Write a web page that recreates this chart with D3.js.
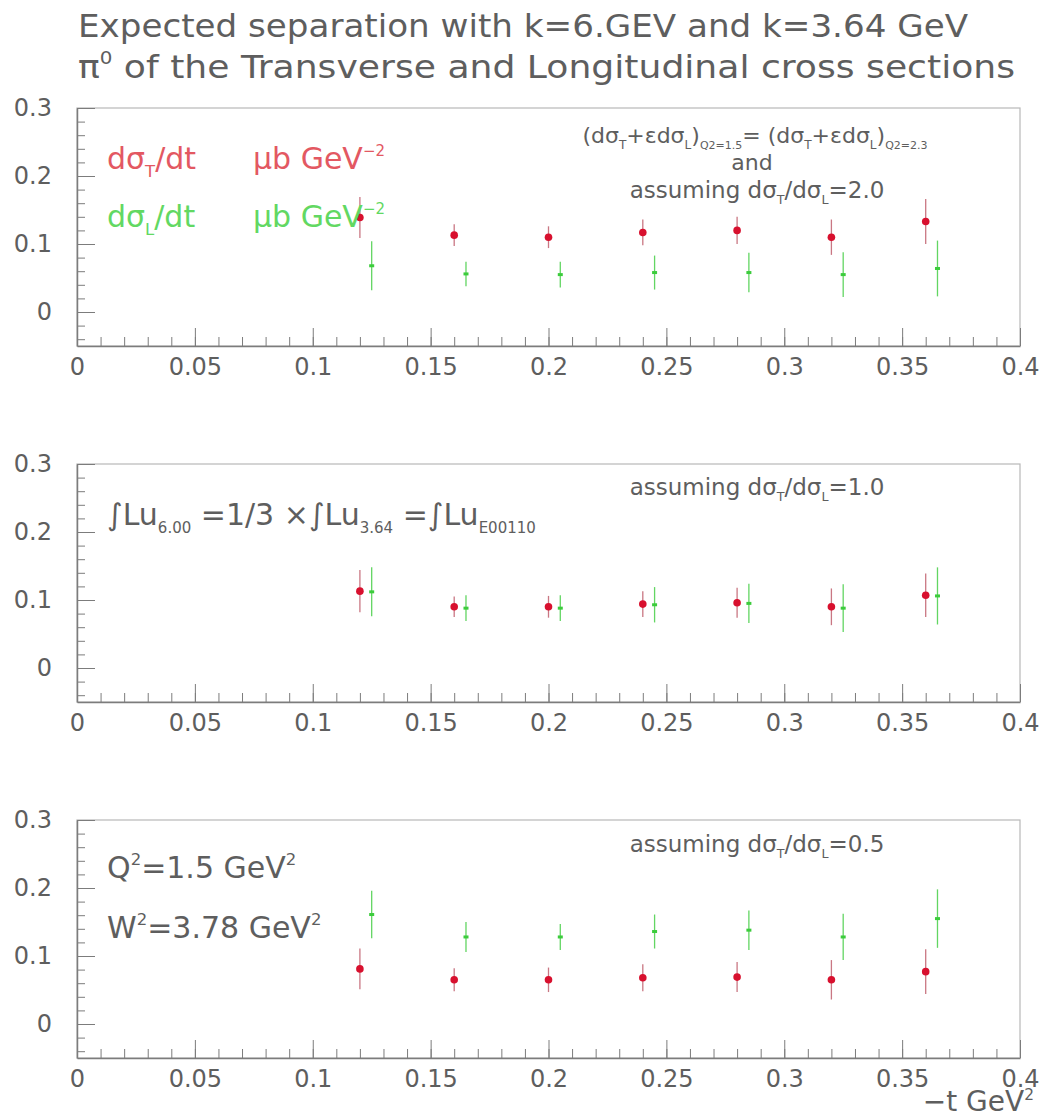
<!DOCTYPE html>
<meta charset="utf-8">
<style>
body { margin: 0; background: #fff; }
text { font-family: "DejaVu Sans", sans-serif; fill: #5e5e5e; }
.axis path, .axis line { stroke: #7c7c7c; }
.axis text { font-size: 24px; fill: #5e5e5e; font-family: "DejaVu Sans", sans-serif; }
</style>
<body>
<script src="https://d3js.org/d3.v7.min.js"></script>
<script>

// -t values (GeV^2) for transverse (red) and longitudinal (green) points
var tT = [0.12, 0.16, 0.20, 0.24, 0.28, 0.32, 0.36];
var tL = [0.125, 0.165, 0.205, 0.245, 0.285, 0.325, 0.365];

// panel 1 : dsigT/dsigL = 2.0
var sigT1 = [0.139, 0.113, 0.110, 0.117, 0.120, 0.110, 0.133];
var errT1 = [0.030, 0.016, 0.016, 0.019, 0.020, 0.026, 0.033];
var sigL1 = [0.068, 0.056, 0.055, 0.058, 0.058, 0.055, 0.064];
var errL1 = [0.036, 0.018, 0.019, 0.025, 0.029, 0.033, 0.041];

// panel 2 : dsigT/dsigL = 1.0
var sigT2 = [0.113, 0.090, 0.090, 0.094, 0.096, 0.090, 0.107];
var errT2 = [0.031, 0.015, 0.016, 0.019, 0.022, 0.027, 0.032];
var sigL2 = [0.112, 0.088, 0.088, 0.093, 0.095, 0.088, 0.106];
var errL2 = [0.036, 0.019, 0.019, 0.026, 0.029, 0.035, 0.042];

// panel 3 : dsigT/dsigL = 0.5
var sigT3 = [0.081, 0.065, 0.065, 0.068, 0.069, 0.065, 0.077];
var errT3 = [0.030, 0.017, 0.018, 0.020, 0.022, 0.029, 0.033];
var sigL3 = [0.161, 0.128, 0.128, 0.136, 0.138, 0.128, 0.155];
var errL3 = [0.035, 0.022, 0.019, 0.025, 0.029, 0.034, 0.043];

var xMajor = [0, 0.05, 0.1, 0.15, 0.2, 0.25, 0.3, 0.35, 0.4];
var xLabels = ["0", "0.05", "0.1", "0.15", "0.2", "0.25", "0.3", "0.35", "0.4"];
var yMajor = [0, 0.1, 0.2, 0.3];
var yLabels = ["0", "0.1", "0.2", "0.3"];

var width = 1048, height = 1119;
var left = 77, right = 1020, panelH = 238;
var panelTops = [108, 464, 820];

var red = "#d8102e", green = "#3ccc3c";
var redText = "#e35862", greenText = "#62d862";

var svg = d3.select("body").append("svg")
    .attr("width", width)
    .attr("height", height);

var x = d3.scaleLinear().domain([0, 0.4]).range([left, right]);

// text with sub/superscripts; parts are strings or {sub: ".."} / {sup: ".."}
function rich(g, px, py, parts, size, opts) {
  opts = opts || {};
  var t = g.append("text").attr("x", px).attr("y", py)
      .style("font-size", size + "px")
      .attr("text-anchor", opts.anchor || "start");
  if (opts.fill) t.style("fill", opts.fill);
  var cur = 0;
  parts.forEach(function(p) {
    var target = 0, txt = p, fs = null;
    if (typeof p !== "string") {
      if (p.sub !== undefined) { txt = p.sub; target = size * 0.28; fs = size * (p.scale || 0.55); }
      else { txt = p.sup; target = -size * (p.up || 0.45); fs = size * (p.scale || 0.55); }
    }
    var s = t.append("tspan").attr("dy", target - cur).text(txt);
    if (fs) s.style("font-size", fs + "px");
    if (p.italic) s.style("font-style", "italic");
    cur = target;
  });
  return t;
}

// title
rich(svg, 78, 37, ["Expected separation  with k=6.GEV and k=3.64 GeV"], 32)
    .attr("textLength", 890).attr("lengthAdjust", "spacingAndGlyphs");
rich(svg, 78, 78, ["\u03c0", {sup: "0"}, " of the  Transverse  and  Longitudinal cross sections"], 32)
    .attr("textLength", 937).attr("lengthAdjust", "spacingAndGlyphs");

var panels = [
  {sT: sigT1, eT: errT1, sL: sigL1, eL: errL1},
  {sT: sigT2, eT: errT2, sL: sigL2, eL: errL2},
  {sT: sigT3, eT: errT3, sL: sigL3, eL: errL3}
];

panels.forEach(function(p, k) {
  var top = panelTops[k];
  var y = d3.scaleLinear().domain([-0.05, 0.3]).range([top + panelH, top]);
  var g = svg.append("g");
  p.g = g;

  // frame
  g.append("rect")
      .attr("x", left).attr("y", top)
      .attr("width", right - left).attr("height", panelH)
      .attr("fill", "none").attr("stroke", "#b8b8b8").attr("stroke-width", 1.2);

  // x axis: minor then major ticks, pointing inwards
  g.append("g").attr("class", "axis")
      .attr("transform", "translate(0," + (top + panelH) + ")")
      .call(d3.axisBottom(x).tickValues(d3.range(0, 0.4001, 0.01)).tickSize(-9).tickFormat(""))
      .call(function(a) { a.select(".domain").remove(); });
  g.append("g").attr("class", "axis")
      .attr("transform", "translate(0," + (top + panelH) + ")")
      .call(d3.axisBottom(x).tickValues(xMajor).tickSizeInner(-18).tickSizeOuter(0).tickPadding(12)
          .tickFormat(function(d, i) { return xLabels[i]; }))
      .call(function(a) { a.select(".domain").attr("stroke-width", 1.5); });

  // y axis
  g.append("g").attr("class", "axis")
      .attr("transform", "translate(" + left + ",0)")
      .call(d3.axisLeft(y).tickValues(d3.range(-0.04, 0.3001, 0.02)).tickSize(-8).tickFormat(""))
      .call(function(a) { a.select(".domain").remove(); });
  g.append("g").attr("class", "axis")
      .attr("transform", "translate(" + left + ",0)")
      .call(d3.axisLeft(y).tickValues(yMajor).tickSizeInner(-18).tickSizeOuter(0).tickPadding(25)
          .tickFormat(function(d, i) { return yLabels[i]; }))
      .call(function(a) { a.select(".domain").attr("stroke-width", 1.5); });

  // green (longitudinal) points
  var gl = g.append("g");
  gl.selectAll("line").data(p.sL).enter().append("line")
      .attr("x1", function(d, i) { return x(tL[i]); })
      .attr("x2", function(d, i) { return x(tL[i]); })
      .attr("y1", function(d, i) { return y(d - p.eL[i]); })
      .attr("y2", function(d, i) { return y(d + p.eL[i]); })
      .attr("stroke", green).attr("stroke-width", 1.3).attr("opacity", 0.8);
  gl.selectAll("rect").data(p.sL).enter().append("rect")
      .attr("x", function(d, i) { return x(tL[i]) - 2.5; })
      .attr("y", function(d) { return y(d) - 1.5; })
      .attr("width", 5).attr("height", 3)
      .attr("fill", green);

  // red (transverse) points
  var gt = g.append("g");
  gt.selectAll("line").data(p.sT).enter().append("line")
      .attr("x1", function(d, i) { return x(tT[i]); })
      .attr("x2", function(d, i) { return x(tT[i]); })
      .attr("y1", function(d, i) { return y(d - p.eT[i]); })
      .attr("y2", function(d, i) { return y(d + p.eT[i]); })
      .attr("stroke", "#b84a5a").attr("stroke-width", 1.3).attr("opacity", 0.75);
  gt.selectAll("circle").data(p.sT).enter().append("circle")
      .attr("cx", function(d, i) { return x(tT[i]); })
      .attr("cy", function(d) { return y(d); })
      .attr("r", 3.8)
      .attr("fill", red);
});

// panel 1 texts
var g1 = panels[0].g;
rich(g1, 107, 169, ["d\u03c3", {sub: "T"}, "/dt"], 30, {fill: redText});
rich(g1, 253, 169, ["\u03bcb GeV", {sup: "\u22122", scale: 0.5}], 30, {fill: redText});
rich(g1, 107, 227, ["d\u03c3", {sub: "L"}, "/dt"], 30, {fill: greenText});
rich(g1, 253, 227, ["\u03bcb GeV", {sup: "\u22122", scale: 0.5}], 30, {fill: greenText});
rich(g1, 755, 143, ["(d\u03c3", {sub: "T"}, "+\u03b5d\u03c3", {sub: "L"}, ")", {sub: "Q2=1.5", scale: 0.5},
    "= (d\u03c3", {sub: "T"}, "+\u03b5d\u03c3", {sub: "L"}, ")", {sub: "Q2=2.3", scale: 0.5}], 22, {anchor: "middle"});
rich(g1, 752, 170, ["and"], 22, {anchor: "middle"});
rich(g1, 757, 198, ["assuming d\u03c3", {sub: "T"}, "/d\u03c3", {sub: "L"}, "=2.0"], 23, {anchor: "middle"});

// panel 2 texts
var g2 = panels[1].g;
rich(g2, 107, 525, ["\u222bLu", {sub: "6.00", scale: 0.5}, " =1/3 \u00d7\u222bLu", {sub: "3.64", scale: 0.5},
    " =\u222bLu", {sub: "E00110", scale: 0.5}], 30);
rich(g2, 757, 495, ["assuming d\u03c3", {sub: "T"}, "/d\u03c3", {sub: "L"}, "=1.0"], 23, {anchor: "middle"});

// panel 3 texts
var g3 = panels[2].g;
rich(g3, 107, 878, ["Q", {sup: "2"}, "=1.5 GeV", {sup: "2"}], 30);
rich(g3, 107, 938, ["W", {sup: "2"}, "=3.78 GeV", {sup: "2"}], 30);
rich(g3, 757, 852, ["assuming d\u03c3", {sub: "T"}, "/d\u03c3", {sub: "L"}, "=0.5"], 23, {anchor: "middle"});

// x axis title
rich(svg, 1034, 1111, ["\u2212t GeV", {sup: "2", up: 0.38}], 28, {anchor: "end"});

</script>
</body>
